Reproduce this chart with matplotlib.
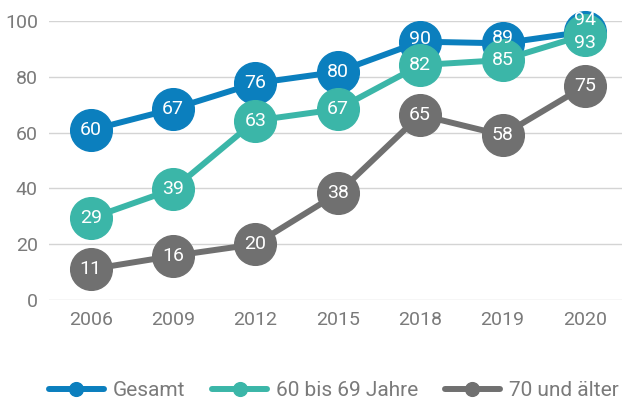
import matplotlib
matplotlib.use("Agg")
import matplotlib.pyplot as plt

# --- data ---
years = ["2006", "2009", "2012", "2015", "2018", "2019", "2020"]
gesamt = [60.9, 68.5, 77.7, 81.8, 92.6, 92.0, 96.2]
gesamt_labels = ["60", "67", "76", "80", "90", "89", "94"]
jahre_60_69 = [29.3, 39.7, 64.3, 68.4, 84.2, 86.0, 95.0]
jahre_60_69_labels = ["29", "39", "63", "67", "82", "85", "93"]
ab_70 = [11.0, 15.8, 20.0, 38.2, 66.3, 59.1, 76.7]
ab_70_labels = ["11", "16", "20", "38", "65", "58", "75"]
yticks = [0, 20, 40, 60, 80, 100]

series = [
    ("Gesamt", gesamt, gesamt_labels, "#0b7fbe"),
    ("60 bis 69 Jahre", jahre_60_69, jahre_60_69_labels, "#3bb6a8"),
    ("70 und älter", ab_70, ab_70_labels, "#707070"),
]
# label nudges (points) where circles overlap
nudge = {("Gesamt", 4): 2, ("Gesamt", 5): 4, ("Gesamt", 6): 8,
         ("60 bis 69 Jahre", 6): -6}

plt.rcParams["font.family"] = ["Roboto", "DejaVu Sans"]
tick_col = "#7a7a7a"

fig = plt.figure(figsize=(6.22, 4.03), dpi=100)
ax = fig.add_axes([49 / 622, 103 / 403, 573 / 622, 279 / 403])

x = list(range(len(years)))
for i, (name, vals, labs, col) in enumerate(series):
    ax.plot(x, vals, color=col, lw=4.3, marker="o", ms=30, label=name,
            zorder=3 + i, clip_on=False, solid_capstyle="round")
    for xi, v, t in zip(x, vals, labs):
        ax.annotate(t, (xi, v), xytext=(0, nudge.get((name, xi), 0)),
                    textcoords="offset points", ha="center", va="center",
                    color="white", fontsize=14, zorder=10)

ax.set_xlim(-0.506, 6.45)
ax.set_ylim(0, 100)
ax.set_xticks(x, years)
ax.set_yticks(yticks)
ax.grid(axis="y", color="#d4d4d4", lw=1)
ax.set_axisbelow(True)
for s in ax.spines.values():
    s.set_visible(False)
ax.tick_params(length=0, labelsize=14, colors=tick_col)
ax.tick_params(axis="x", pad=8)
ax.tick_params(axis="y", pad=8)

handles, labels = ax.get_legend_handles_labels()
leg = fig.legend(handles, labels, loc="center", bbox_to_anchor=(334 / 622, 12 / 403),
                 ncol=3, frameon=False, fontsize=15, handlelength=2.6,
                 handletextpad=0.45, columnspacing=1.3, markerscale=0.33)
for t in leg.get_texts():
    t.set_color(tick_col)

fig.savefig("out.png", dpi=100)
